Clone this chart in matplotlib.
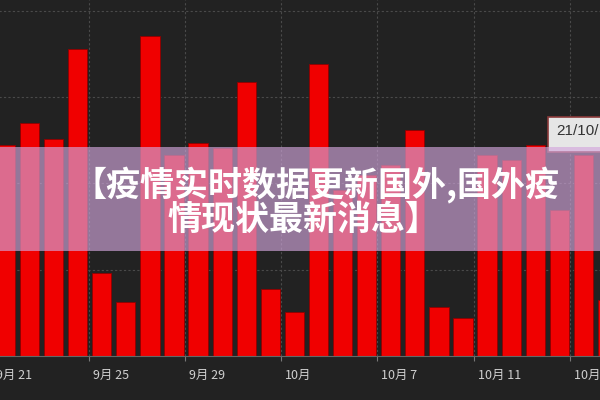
import matplotlib
matplotlib.use('Agg')
import matplotlib.pyplot as plt
from matplotlib.patches import Rectangle
from matplotlib.transforms import ScaledTranslation
import numpy as np

plt.rcParams['font.family'] = ['Noto Sans CJK SC', 'DejaVu Sans']

# ---- data (one bar per day 9/21 .. 10/16) ----
# no y labels are shown, values are in grid steps
dates = ['9/21', '9/22', '9/23', '9/24', '9/25', '9/26', '9/27', '9/28',
         '9/29', '9/30', '10/1', '10/2', '10/3', '10/4', '10/5', '10/6',
         '10/7', '10/8', '10/9', '10/10', '10/11', '10/12', '10/13',
         '10/14', '10/15', '10/16']
values = [2.44, 2.70, 2.51, 3.56, 0.96, 0.63, 3.71, 2.33,
          2.47, 2.41, 3.18, 0.78, 0.51, 3.38, 1.92, 2.10,
          2.21, 2.62, 0.57, 0.44, 2.33, 2.27, 2.44,
          1.69, 2.33, 0.65]
tick_days = [0, 4, 8, 12, 16, 20, 24]
tick_labels = ['9月 21', '9月 25', '9月 29', '10月', '10月 7', '10月 11', '10月 15']
tooltip_text = '21/10/'
title_lines = ['【疫情实时数据更新国外,国外疫', '情现状最新消息】']

BG = '#222222'

fig = plt.figure(figsize=(6, 4), dpi=100, facecolor=BG)
# plot area runs a bit past the picture edges on both sides
ax = fig.add_axes([-20 / 600, 44 / 400, 640 / 600, 356 / 400])
ax.set_facecolor(BG)

x = np.arange(len(values))
ax.bar(x + 0.55, values, width=0.8, color='#f00000',
       edgecolor='#8e0000', linewidth=0.6, zorder=2)

ax.set_xlim(-0.506, 26.07)
ax.set_ylim(0, 4.125)
ax.set_yticks([1, 2, 3, 4])
ax.set_xticks(tick_days)
ax.set_xticklabels(tick_labels, ha='left')
ax.tick_params(axis='y', length=0, labelleft=False)
ax.tick_params(axis='x', direction='out', length=3.6, width=0.8,
               color='#777777', labelcolor='#d0d0d0', labelsize=9, pad=5.5)
offset = ScaledTranslation(0.04, 0, fig.dpi_scale_trans)
for lab in ax.get_xticklabels():
    lab.set_transform(lab.get_transform() + offset)

for side in ['top', 'left', 'right']:
    ax.spines[side].set_visible(False)
ax.spines['bottom'].set_color('#666666')
ax.spines['bottom'].set_linewidth(0.8)

ax.set_axisbelow(True)
ax.grid(color='#4a4a4a', linestyle=(0, (2, 2)), linewidth=0.8)

# tooltip box, cut off at the right edge
fig.patches.append(Rectangle((548 / 600, 1 - 152 / 400), 62 / 600, 35 / 400,
                             transform=fig.transFigure, facecolor='#e6e6e6',
                             edgecolor='#8a3a3a', linewidth=1.2, zorder=4))
fig.text(556 / 600, 1 - 131 / 400, tooltip_text, color='#333333',
         fontsize=11, family=['Liberation Sans', 'DejaVu Sans'],
         ha='left', va='center', zorder=4.5)

# translucent banner with title
fig.patches.append(Rectangle((0, 1 - 251 / 400), 1, 104 / 400,
                             transform=fig.transFigure,
                             facecolor=(210 / 255, 166 / 255, 220 / 255),
                             alpha=0.65, linewidth=0, zorder=5))
fig.text(316 / 600, 1 - 185 / 400, title_lines[0], color='white',
         fontsize=24.5, fontweight='heavy', ha='center', va='center', zorder=6)
fig.text(303 / 600, 1 - 219 / 400, title_lines[1], color='white',
         fontsize=24.5, fontweight='heavy', ha='center', va='center', zorder=6)

fig.savefig('out.png', dpi=100, facecolor=BG)
